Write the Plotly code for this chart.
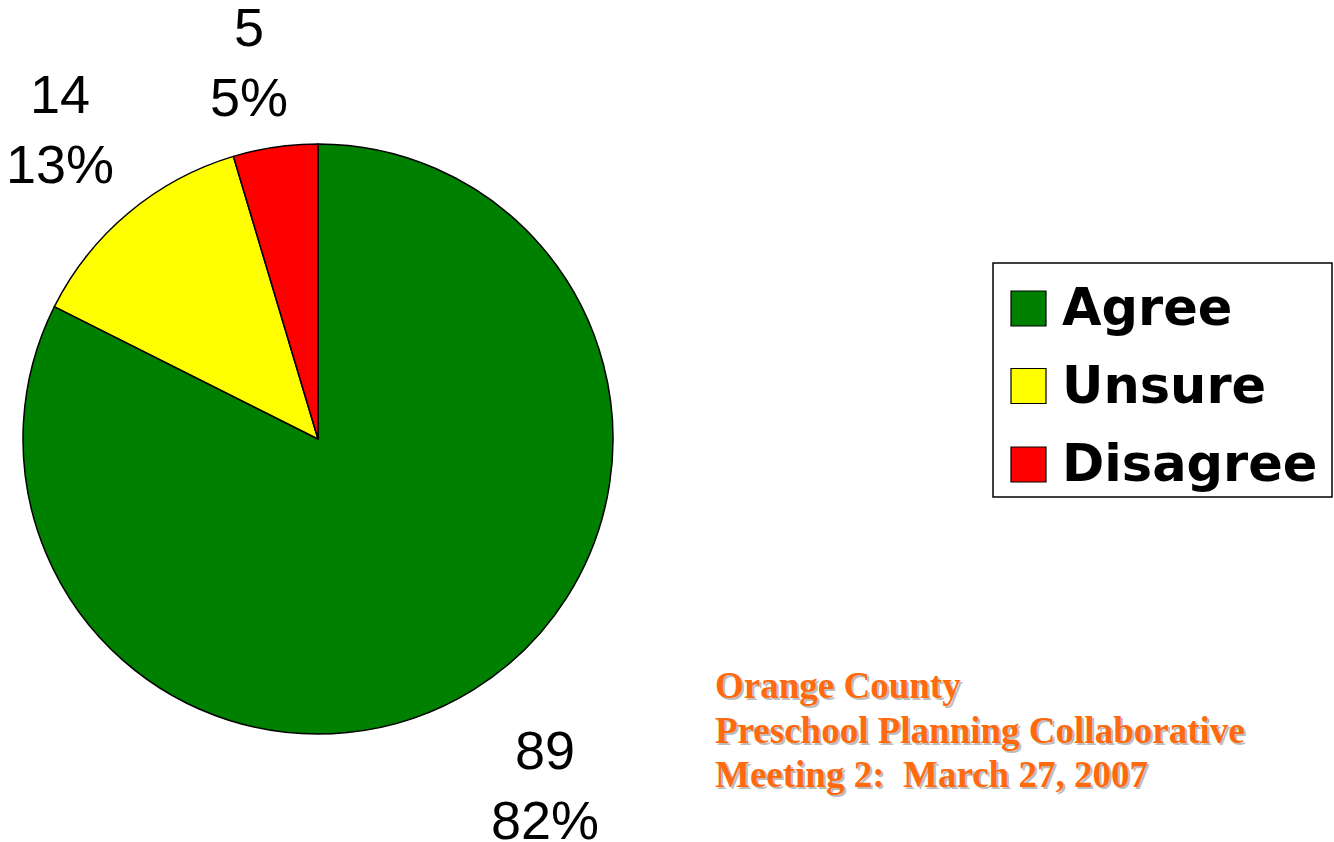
import math
import plotly.graph_objects as go

categories = ["Agree", "Unsure", "Disagree"]
counts = [89, 14, 5]
percent_labels = ["82%", "13%", "5%"]
colors = ["#008000", "#FFFF00", "#FF0000"]
footer_lines = ["Orange County", "Preschool Planning Collaborative", "Meeting 2:  March 27, 2007"]

W, H = 1334, 842
cx, cy, r = 318, 439, 295  # pie centre / radius in pixels

fig = go.Figure()
fig.add_trace(go.Pie(
    labels=categories,
    values=counts,
    marker=dict(colors=colors, line=dict(color="black", width=1.5)),
    sort=False,
    direction="clockwise",
    rotation=0,
    textinfo="none",
    hoverinfo="label+value+percent",
    showlegend=False,
    domain=dict(x=[(cx - r) / W, (cx + r) / W], y=[1 - (cy + r) / H, 1 - (cy - r) / H]),
))

annotations = []
# data labels placed along each slice's mid angle
total = sum(counts)
cum = 0
label_factor = [1.38, 1.37, 1.29]
label_nudge_x = [13, 2, -14]
for i, v in enumerate(counts):
    mid = (cum + v / 2) / total * 2 * math.pi
    cum += v
    px = cx + math.sin(mid) * r * label_factor[i] + label_nudge_x[i]
    py = cy - math.cos(mid) * r * label_factor[i]
    annotations.append(dict(
        x=px / W, y=1 - py / H, xref="paper", yref="paper",
        text=f"{v}<br>{percent_labels[i]}", showarrow=False,
        font=dict(family="Liberation Sans, Arial, sans-serif", size=54, color="black"),
        align="center", xanchor="center", yanchor="middle",
    ))

# custom legend
shapes = []
lx0, ly0, lx1, ly1 = 993, 263, 1332, 497
shapes.append(dict(type="rect", xref="paper", yref="paper",
                   x0=lx0 / W, x1=lx1 / W, y0=1 - ly1 / H, y1=1 - ly0 / H,
                   line=dict(color="black", width=1.5), fillcolor="white", layer="below"))
row_centers = [308.5, 386, 464.5]
for i, name in enumerate(categories):
    yc = row_centers[i]
    shapes.append(dict(type="rect", xref="paper", yref="paper",
                       x0=1011 / W, x1=1046 / W, y0=1 - (yc + 17.5) / H, y1=1 - (yc - 17.5) / H,
                       line=dict(color="black", width=1.2), fillcolor=colors[i]))
    annotations.append(dict(
        x=1060 / W, y=1 - (yc - 1) / H, xref="paper", yref="paper",
        text=f"<b>{name}</b>", showarrow=False,
        font=dict(family="DejaVu Sans, Verdana, sans-serif", size=51, color="black"),
        xanchor="left", yanchor="middle",
    ))

# footer with shadow, one annotation per line
fx = 713
footer_y = [685, 730, 774]
for dx, dy, col in [(2, 2, "#BDBDBD"), (0, 0, "#FF6A0E")]:
    for t, yy in zip(footer_lines, footer_y):
        annotations.append(dict(
            x=(fx + dx) / W, y=1 - (yy + dy) / H, xref="paper", yref="paper",
            text=f"<b>{t}</b>", showarrow=False, align="left",
            font=dict(family="Liberation Serif, Times New Roman, serif", size=37, color=col),
            xanchor="left", yanchor="middle",
        ))

fig.update_layout(
    width=W, height=H,
    margin=dict(l=0, r=0, t=0, b=0),
    paper_bgcolor="white", plot_bgcolor="white",
    annotations=annotations, shapes=shapes,
    showlegend=False,
)

fig.write_html("out.html", config={"displayModeBar": False})
with open("out.html", "r", encoding="utf-8") as f:
    html = f.read()
html = html.replace("<body>", '<body style="margin:0;padding:0;overflow:hidden;">', 1)
with open("out.html", "w", encoding="utf-8") as f:
    f.write(html)
